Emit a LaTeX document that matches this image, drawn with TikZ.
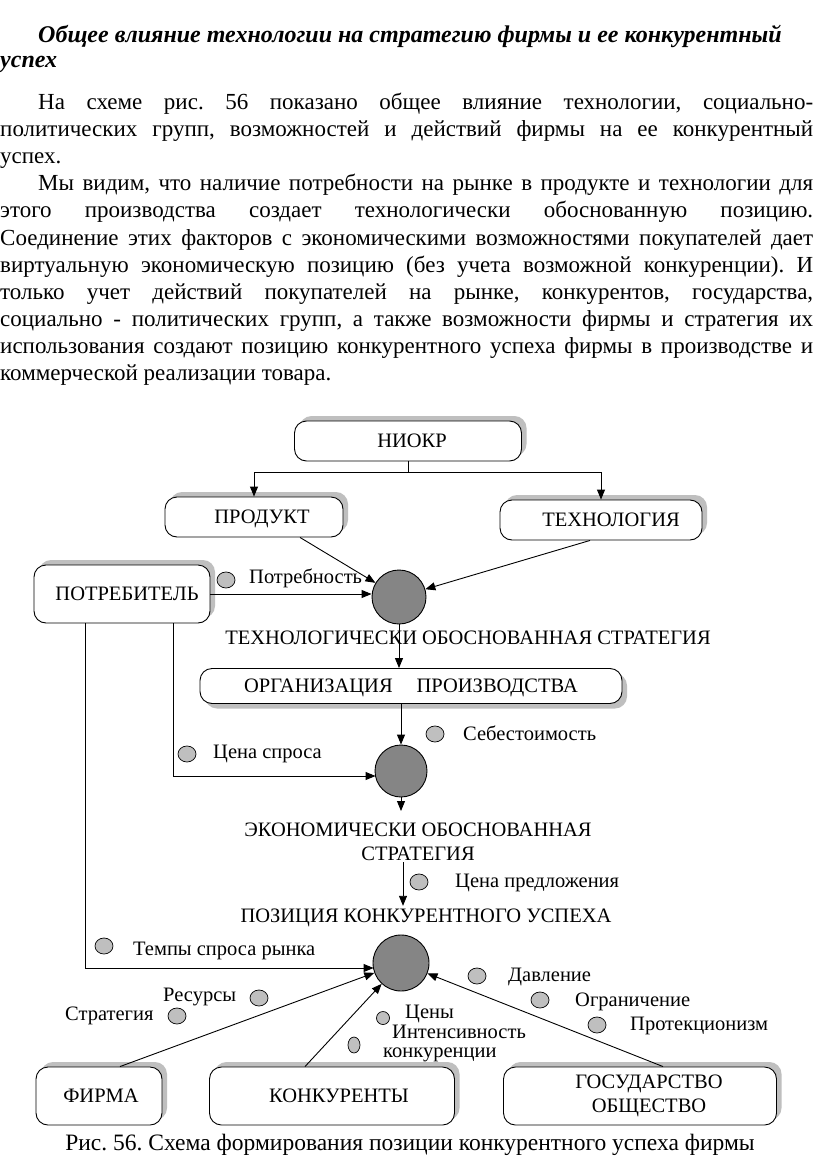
\documentclass[tikz,border=0pt]{standalone}
\usepackage{fontspec}
\setmainfont{Liberation Serif}
\usetikzlibrary{shadows,calc,arrows.meta,shapes.geometric}
\newcommand\dgfont{\fontsize{20.5}{24}\selectfont}
\newcommand\bodyfont{\fontsize{23}{27}\selectfont}
\newcommand\titlefont{\fontsize{24}{27}\selectfont}
\newcommand\capfont{\fontsize{23.5}{27}\selectfont}
\newcommand\jl[2]{\makebox[#1pt][s]{#2}}
\newcommand\sh[1]{\hspace*{#1pt}}
\frenchspacing
\begin{document}
\begin{tikzpicture}[x=1pt,y=-1pt,
  every node/.style={inner sep=0pt},
  ln/.style={line width=0.9pt},
  arr/.style={ln,-{Triangle[length=10pt,width=8pt]}},
  boxbase/.style={draw,ln,rounded corners=12pt,fill=white,font=\dgfont,align=center,text height=13.5pt,text depth=0pt},
  box/.style={boxbase,drop shadow={shadow xshift=5pt,shadow yshift=5pt,fill=black!25,opacity=1}},
  boxd/.style={boxbase,drop shadow={shadow xshift=5pt,shadow yshift=-5pt,fill=black!25,opacity=1}},
  big/.style={circle,draw,ln,fill=black!48},
  dot/.style={ellipse,draw,line width=0.7pt,fill=black!25,minimum width=18pt,minimum height=16pt},
  lab/.style={font=\dgfont,anchor=west,text height=13.5pt,text depth=0pt},
  body/.style={font=\bodyfont,anchor=base west},
]
\useasboundingbox (0,0) rectangle (816,1158);
\fill[white] (0,0) rectangle (816,1158);

% ---- text ----
\node[body,font=\titlefont] (t1) at (38,43) {\bfseries\itshape Общее влияние технологии на стратегию фирмы и ее конкурентный};
\node[body,font=\titlefont] (t2) at (0,68) {\bfseries\itshape успех};
\node[body] (p1) at (38,110) {\jl{775}{На схеме рис. 56 показано общее влияние технологии, социально-}};
\node[body] (p2) at (0,137) {\jl{813}{политических групп, возможностей и действий фирмы на ее конкурентный}};
\node[body] (p3) at (0,164) {успех.};
\node[body] (q1) at (38,191) {\jl{775}{Мы видим, что наличие потребности на рынке в продукте и технологии для}};
\node[body] (q2) at (0,218) {\jl{813}{этого производства создает технологически обоснованную позицию.}};
\node[body] (q3) at (0,245) {\jl{813}{Соединение этих факторов с экономическими возможностями покупателей дает}};
\node[body] (q4) at (0,272) {\jl{813}{виртуальную экономическую позицию (без учета возможной конкуренции). И}};
\node[body] (q5) at (0,299) {\jl{813}{только учет действий покупателей на рынке, конкурентов, государства,}};
\node[body] (q6) at (0,326) {\jl{813}{социально - политических групп, а также возможности фирмы и стратегия их}};
\node[body] (q7) at (0,353) {\jl{813}{использования создают позицию конкурентного успеха фирмы в производстве и}};
\node[body] (q8) at (0,380) {коммерческой реализации товара.};

% ---- boxes ----
\node[box,minimum width=227pt,minimum height=40pt] (niokr) at (408,441) {\sh{8}НИОКР};
\node[box,minimum width=178pt,minimum height=40pt] (produkt) at (254,517) {\sh{16}ПРОДУКТ};
\node[box,minimum width=202pt,minimum height=40pt] (tech) at (601,520) {\sh{20}ТЕХНОЛОГИЯ};
\node[box,minimum width=176pt,minimum height=58pt] (potreb) at (122,594) {\sh{10}ПОТРЕБИТЕЛЬ};
\node[boxd,minimum width=422pt,minimum height=35pt] (org) at (411,686) {ОРГАНИЗАЦИЯ\hspace{24pt}ПРОИЗВОДСТВА};
\node[box,minimum width=126pt,minimum height=58pt] (firma) at (99,1096) {\sh{4}ФИРМА};
\node[box,minimum width=245pt,minimum height=58pt] (konk) at (332,1096) {\sh{14}КОНКУРЕНТЫ};
\node[box,minimum width=273pt,minimum height=58pt,text height=,text depth=] (gos) at (640,1096) {\sh{18}ГОСУДАРСТВО\\\sh{18}ОБЩЕСТВО};

% ---- circles ----
\node[big,minimum size=54pt] (c1) at (399,597) {};
\node[big,minimum size=52pt] (c2) at (401,771) {};
\node[big,minimum size=56pt] (c3) at (401,963) {};

% ---- stage labels ----
\node[font=\dgfont] (ts) at (468,638) {ТЕХНОЛОГИЧЕСКИ ОБОСНОВАННАЯ СТРАТЕГИЯ};
\node[font=\dgfont,align=center] (es) at (418,842) {ЭКОНОМИЧЕСКИ ОБОСНОВАННАЯ\\СТРАТЕГИЯ};
\node[font=\dgfont] (ps) at (426,918) {ПОЗИЦИЯ КОНКУРЕНТНОГО УСПЕХА};

% ---- connectors ----
\coordinate (split) at (408,472);
\draw[ln] (niokr.south) -- (split);
\draw[arr] (split) -| (produkt.north);
\draw[arr] (split) -| (tech.north);
\draw[arr] ($(produkt.south)+(46,0)$) -- (c1);
\draw[arr] ($(tech.south)+(-11,0)$) -- (c1);
\draw[arr] (potreb.east) -- (potreb.east -| c1.west);
\draw[arr] (c1.south) -- (c1.south |- org.north);
\draw[arr] (c2.north |- org.south) -- (c2.north);
\draw[arr] ($(potreb.south)+(51,0)$) |- ($(c2.west)+(1,5)$);
\coordinate (c2out) at (401,811);
\draw[arr] (c2.south) -- (c2out);
\draw[arr] ($(es.south -| c3)+(2,1)$) -- ($(ps.north -| c3)+(2,-3)$);
\draw[arr] ($(potreb.south)+(-37,0)$) |- ($(c3.west)+(1,5)$);
\draw[arr] ($(firma.north)+(21,0)$) -- (c3);
\draw[arr] ($(konk.north)+(-27,0)$) -- (c3);
\draw[arr] ($(gos.north)+(23,0)$) -- (c3);

% ---- small dots and labels ----
\node[dot] (d1) at (226,580) {};
\node[lab] (l1) at (249,577) {Потребность};
\node[dot] (d2) at (435,734) {};
\node[lab] (l2) at (463,734) {Себестоимость};
\node[dot] (d3) at (187,754) {};
\node[lab] (l3) at (213,752) {Цена спроса};
\node[dot] (d4) at (419,882) {};
\node[lab] (l4) at (455,881) {Цена предложения};
\node[dot] (d5) at (104,946) {};
\node[lab] (l5) at (133,949) {Темпы спроса рынка};
\node[dot] (d6) at (477,976) {};
\node[lab] (l6) at (508,975) {Давление};
\node[dot] (d7) at (540,1000) {};
\node[lab] (l7) at (575,1000) {Ограничение};
\node[dot] (d8) at (597,1025) {};
\node[lab] (l8) at (630,1024) {Протекционизм};
\node[dot] (d9) at (259,998) {};
\node[lab] (l9) at (163,995) {Ресурсы};
\node[dot] (d10) at (177,1016) {};
\node[lab] (l10) at (65,1014) {Стратегия};
\node[dot,minimum width=13pt,minimum height=13pt] (d11) at (383,1018) {};
\node[lab] (l11) at (405,1012) {Цены};
\node[lab] (l12) at (392,1032) {Интенсивность};
\node[lab] (l13) at (383,1051) {конкуренции};
\node[dot,minimum width=12pt,minimum height=16pt] (d12) at (354,1045) {};

% ---- caption ----
\node[font=\capfont,anchor=base] (cap) at (410,1150) {Рис. 56. Схема формирования позиции конкурентного успеха фирмы};
\end{tikzpicture}
\end{document}
